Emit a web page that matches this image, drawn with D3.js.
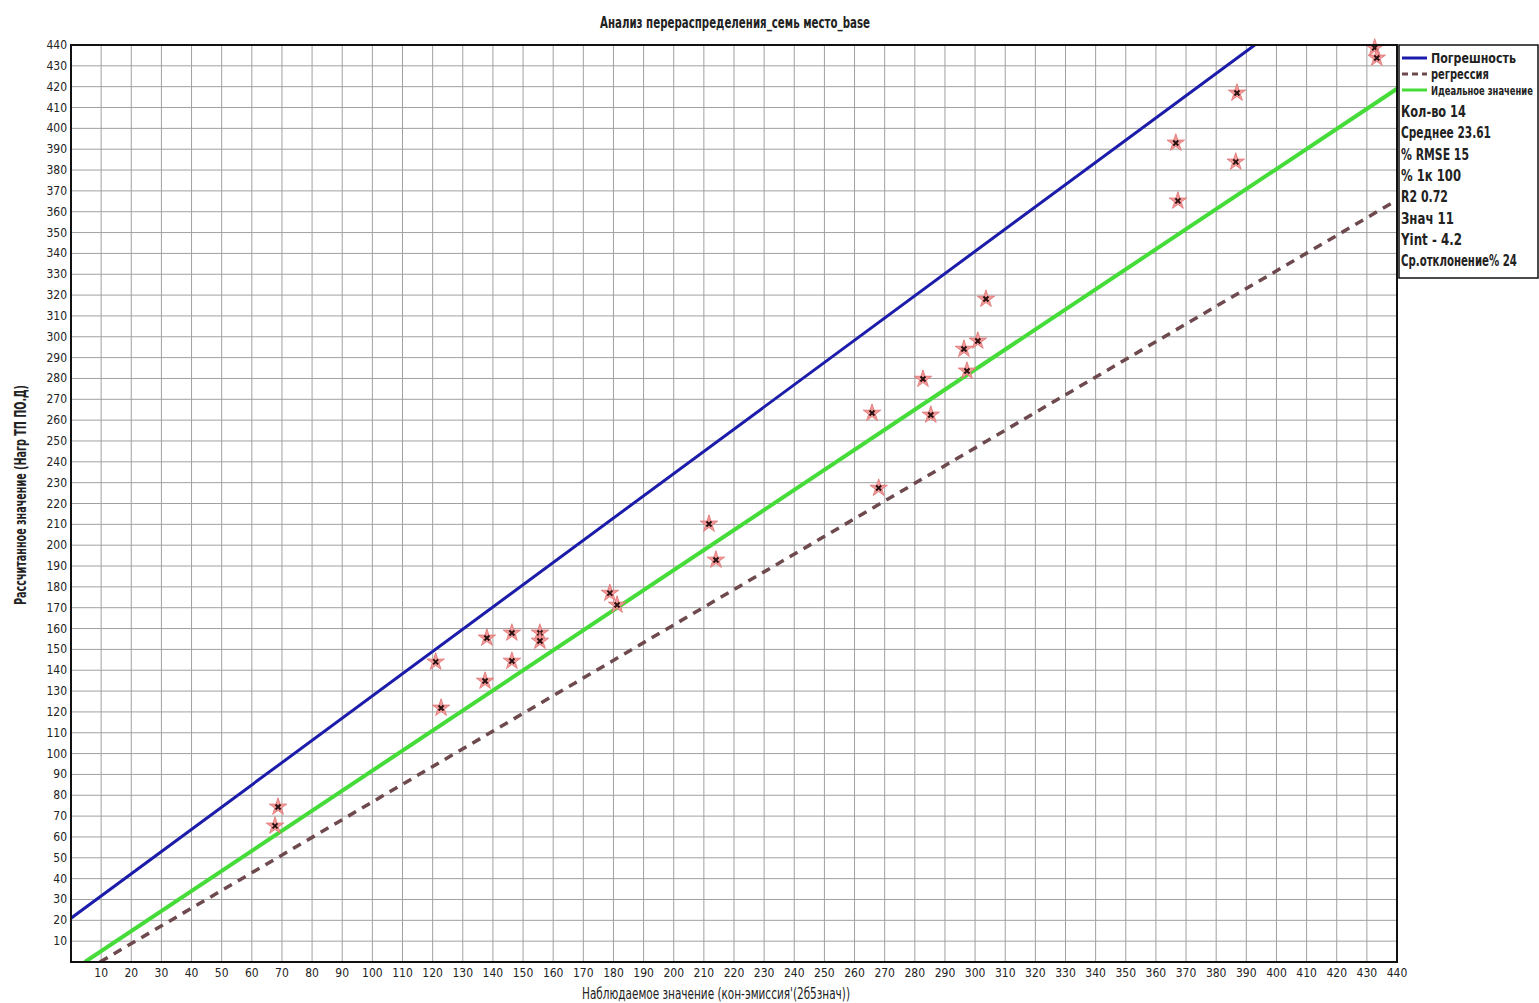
<!DOCTYPE html>
<html>
<head>
<meta charset="utf-8">
<script src="https://cdn.jsdelivr.net/npm/d3@7"></script>
<style>
  body { margin: 0; background: #fff; }
  text { font-family: "DejaVu Sans Condensed", "Liberation Sans Narrow", "Liberation Sans", sans-serif; fill: #222; }
</style>
</head>
<body>
<div id="chart"></div>
<script>
// observed (x) vs computed (y) values
var observed = [68.7, 67.7, 121, 122.8, 138, 137.4, 146.3, 146.3, 155.6, 155.6, 178.8, 181.2, 211.7, 214,
  265.8, 268, 282.7, 285.3, 296.3, 297.3, 300.9, 303.6, 366.6, 367.3, 386.5, 386.9, 432.6, 433.3]
var computed = [74.4, 65.3, 144, 121.9, 155.5, 134.8, 157.9, 144.4, 157.9, 154, 177, 171.3, 210.2, 192.9,
  263.4, 227.4, 279.7, 262.5, 294.1, 283.6, 298, 318.1, 393, 365.2, 383.9, 417, 438.6, 433.8]

// reference lines, endpoints in data units
var toleranceLine = [[0, 21], [392.8, 440]]
var regressionLine = [[9.6, 0], [440, 365.6]]
var idealLine = [[4.6, 0], [440, 419]]

var tickValues = d3.range(10, 441, 10)

var legendItems = ["Погрешность", "регрессия", "Идеальное значение"]
var statLines = ["Кол-во 14", "Среднее 23.61", "% RMSE 15", "% 1к 100", "R2 0.72", "Знач 11", "Yint - 4.2", "Ср.отклонение% 24"]

var width = 1539
var height = 1003
var plot = {left: 71, right: 1397, top: 45, bottom: 962}

var svg = d3.select("#chart")
  .append("svg")
  .attr("width", width)
  .attr("height", height)
  .style("background", "#fff")

var x = d3.scaleLinear().domain([0, 440]).range([plot.left, plot.right])
var y = d3.scaleLinear().domain([0, 440]).range([plot.bottom, plot.top])

// squeeze a text horizontally to a given width (keeps it inside its box)
function fitText(sel, x0, y0, w) {
  var natural = sel.node().getComputedTextLength()
  sel.attr("transform", "translate(" + x0 + "," + y0 + ") scale(" + (w / natural) + ",1)")
}

// grid
svg.append("g")
  .selectAll("line")
  .data(tickValues)
  .enter().append("line")
    .attr("x1", d => x(d)).attr("x2", d => x(d))
    .attr("y1", plot.top).attr("y2", plot.bottom)
    .attr("stroke", "#a0a0a0").attr("stroke-width", 1)
svg.append("g")
  .selectAll("line")
  .data(tickValues)
  .enter().append("line")
    .attr("y1", d => y(d)).attr("y2", d => y(d))
    .attr("x1", plot.left).attr("x2", plot.right)
    .attr("stroke", "#a0a0a0").attr("stroke-width", 1)

// tick labels
svg.append("g")
  .selectAll("text")
  .data(tickValues)
  .enter().append("text")
    .attr("x", d => x(d))
    .attr("y", plot.bottom + 15)
    .attr("text-anchor", "middle")
    .style("font-size", "12px")
    .text(d => d)
svg.append("g")
  .selectAll("text")
  .data(tickValues)
  .enter().append("text")
    .attr("x", plot.left - 4)
    .attr("y", d => y(d) + 4)
    .attr("text-anchor", "end")
    .style("font-size", "12px")
    .text(d => d)

// clip for the lines
svg.append("clipPath").attr("id", "clip")
  .append("rect")
  .attr("x", plot.left).attr("y", plot.top)
  .attr("width", plot.right - plot.left).attr("height", plot.bottom - plot.top)

var line = d3.line().x(d => x(d[0])).y(d => y(d[1]))
var lines = svg.append("g").attr("clip-path", "url(#clip)")

lines.append("path").datum(regressionLine)
  .attr("d", line).attr("fill", "none")
  .attr("stroke", "#6e4a4e").attr("stroke-width", 3.5)
  .attr("stroke-dasharray", "9,7")
lines.append("path").datum(toleranceLine)
  .attr("d", line).attr("fill", "none")
  .attr("stroke", "#1c1caa").attr("stroke-width", 3)
lines.append("path").datum(idealLine)
  .attr("d", line).attr("fill", "none")
  .attr("stroke", "#45dc3a").attr("stroke-width", 4)

// points
var pts = observed.map((d, i) => ({x: d, y: computed[i]}))
var star = d3.symbol().type(d3.symbolStar).size(95)
var node = svg.append("g")
  .selectAll("g")
  .data(pts)
  .enter().append("g")
    .attr("transform", d => "translate(" + x(d.x) + "," + y(d.y) + ")")
node.append("path")
  .attr("d", star)
  .attr("fill", "#f29a9a")
  .attr("stroke", "#e07070").attr("stroke-width", 0.8)
node.append("path")
  .attr("d", "M-2.5,-2.5L2.5,2.5M-2.5,2.5L2.5,-2.5")
  .attr("stroke", "#2a1010").attr("stroke-width", 2)

// frame
svg.append("rect")
  .attr("x", plot.left).attr("y", plot.top)
  .attr("width", plot.right - plot.left).attr("height", plot.bottom - plot.top)
  .attr("fill", "none").attr("stroke", "#111").attr("stroke-width", 2)

// title and axis labels
svg.append("text")
  .attr("x", 600).attr("y", 28)
  .attr("textLength", 270).attr("lengthAdjust", "spacingAndGlyphs")
  .style("font-size", "15px").style("font-weight", "bold")
  .text("Анализ перераспределения_семь место_base")
svg.append("text")
  .attr("x", 582).attr("y", 999)
  .attr("textLength", 268).attr("lengthAdjust", "spacingAndGlyphs")
  .style("font-size", "15px")
  .text("Наблюдаемое значение (кон-эмиссия'(2б5знач))")
svg.append("text")
  .attr("transform", "translate(26,605) rotate(-90)")
  .attr("textLength", 220).attr("lengthAdjust", "spacingAndGlyphs")
  .style("font-size", "15px").style("font-weight", "bold")
  .text("Рассчитанное значение (Нагр ТП ПО.Д)")

// legend box
var lg = svg.append("g")
lg.append("rect")
  .attr("x", 1399).attr("y", 45).attr("width", 139).attr("height", 233)
  .attr("fill", "#fff").attr("stroke", "#111").attr("stroke-width", 1.5)

var legendStyles = [
  {stroke: "#1c1caa", dash: null, w: 85, fs: 14},
  {stroke: "#6e4a4e", dash: "6,4", w: 58, fs: 14},
  {stroke: "#45dc3a", dash: null, w: 102, fs: 13}
]
legendItems.forEach(function(t, i) {
  var yy = 58 + i * 16
  lg.append("line")
    .attr("x1", 1402).attr("x2", 1427).attr("y1", yy).attr("y2", yy)
    .attr("stroke", legendStyles[i].stroke).attr("stroke-width", 3)
    .attr("stroke-dasharray", legendStyles[i].dash)
  var tx = lg.append("text")
    .style("font-size", legendStyles[i].fs + "px").style("font-weight", "bold")
    .text(t)
  fitText(tx, 1431, yy + 5, legendStyles[i].w)
})
var statWidths = [65, 90, 68, 60, 47, 53, 61, 116]
statLines.forEach(function(t, i) {
  var tx = lg.append("text")
    .style("font-size", "15px").style("font-weight", "bold")
    .text(t)
  fitText(tx, 1401, 117 + i * 21.3, statWidths[i])
})
</script>
</body>
</html>
